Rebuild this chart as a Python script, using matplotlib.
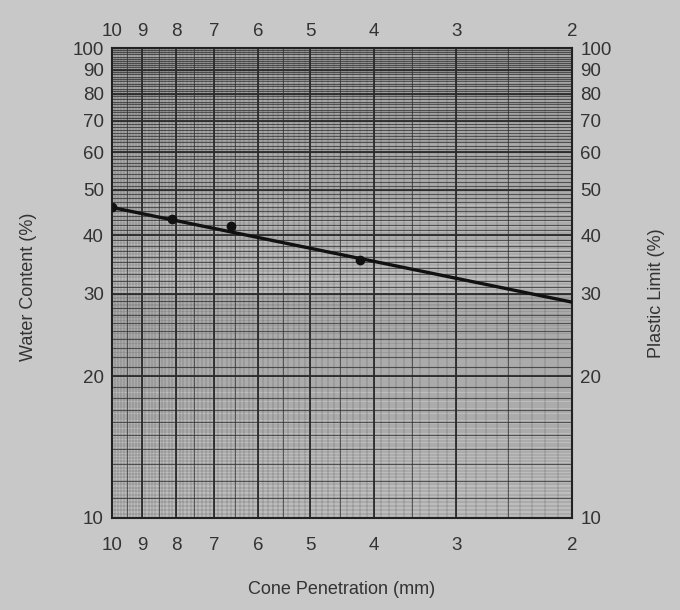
import numpy as np
import matplotlib.pyplot as plt
from matplotlib.ticker import FixedLocator, NullFormatter, NullLocator

# cone penetration (mm) and water content (%)
penetration = [10.0, 8.1, 6.6, 4.2]
water_content = [45.8, 43.2, 41.8, 35.4]

# best-fit line end points
line_pen = [10.0, 2.0]
line_wc = [45.8, 28.8]

x_ticks = [10, 9, 8, 7, 6, 5, 4, 3, 2]
y_ticks = [10, 20, 30, 40, 50, 60, 70, 80, 90, 100]

plt.rcParams['font.family'] = ['Liberation Sans', 'DejaVu Sans']
TXT = "#333333"
GRID = "#2b2b2b"

fig = plt.figure(figsize=(6.8, 6.1), dpi=100, facecolor="#c8c8c8")
ax = fig.add_axes([0.165, 0.151, 0.676, 0.770])
ax.set_facecolor("#bdbdbd")
ax.set_xscale("log")
ax.set_yscale("log")
ax.set_xlim(10, 2)
ax.set_ylim(10, 100)

# graph-paper grid: fine, medium and heavy lines
fine_x = np.arange(2.0, 10.0, 0.1)
med_x = np.arange(2.0, 10.0, 0.5)
fine_y = np.concatenate([np.arange(10, 30, 0.2), np.arange(30, 100, 0.5)])
med_y = np.arange(10, 100, 1)
for v in fine_x:
    ax.axvline(v, color=GRID, lw=0.35, alpha=0.5, zorder=0)
for v in med_x:
    ax.axvline(v, color=GRID, lw=0.7, alpha=0.65, zorder=0)
for v in x_ticks:
    ax.axvline(v, color=GRID, lw=1.4, alpha=0.9, zorder=1)
for v in fine_y:
    ax.axhline(v, color=GRID, lw=0.35, alpha=0.5, zorder=0)
for v in med_y:
    ax.axhline(v, color=GRID, lw=0.8, alpha=0.7, zorder=0)
for v in y_ticks:
    ax.axhline(v, color=GRID, lw=1.5, alpha=0.9, zorder=1)

ax.plot(line_pen, line_wc, color="#111111", lw=2.4, zorder=3)
ax.plot(penetration, water_content, "o", color="#111111", ms=6, zorder=4)

for s in ax.spines.values():
    s.set_color("#222222")
    s.set_linewidth(1.5)

# bottom / left / right tick labels
ax.xaxis.set_major_locator(FixedLocator(x_ticks))
ax.xaxis.set_minor_locator(NullLocator())
ax.set_xticklabels([str(t) for t in x_ticks])
ax.yaxis.set_major_locator(FixedLocator(y_ticks))
ax.yaxis.set_minor_locator(NullLocator())
ax.set_yticklabels([str(t) for t in y_ticks])
ax.tick_params(axis="y", length=0, labelsize=13.5, labelcolor=TXT, pad=6,
               right=True, labelright=True)
ax.tick_params(axis="x", length=0, labelsize=13.5, labelcolor=TXT, pad=14)

# top tick labels
top = ax.secondary_xaxis("top")
top.xaxis.set_major_locator(FixedLocator(x_ticks))
top.xaxis.set_minor_locator(NullLocator())
top.xaxis.set_minor_formatter(NullFormatter())
top.set_xticklabels([str(t) for t in x_ticks])
top.tick_params(length=0, labelsize=13.5, labelcolor=TXT, pad=6)
top.spines["top"].set_visible(False)

ax.set_xlabel("Cone Penetration (mm)", fontsize=13, color=TXT, labelpad=19)
fig.text(0.042, 0.53, "Water Content (%)", rotation=90, fontsize=13,
         color=TXT, ha="center", va="center")
fig.text(0.966, 0.52, "Plastic Limit (%)", rotation=90, fontsize=13,
         color=TXT, ha="center", va="center")

fig.savefig("out.png", dpi=100, facecolor=fig.get_facecolor())
